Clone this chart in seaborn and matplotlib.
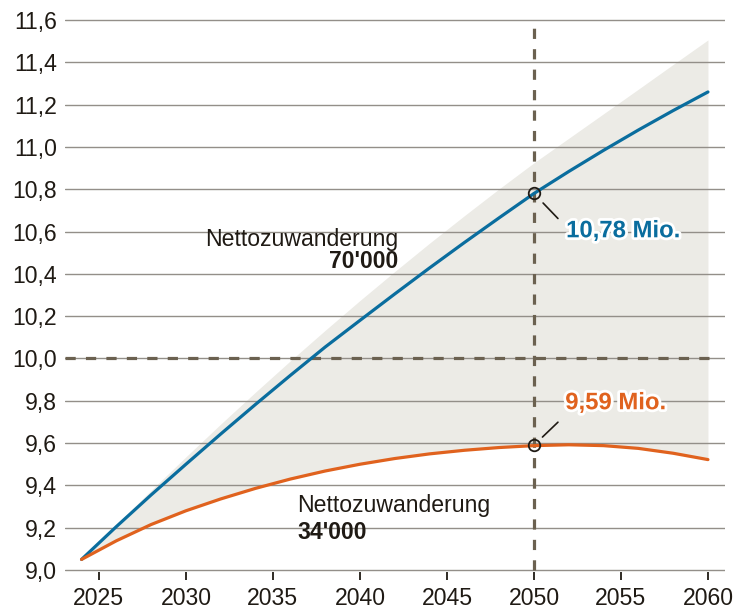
import matplotlib
matplotlib.use("Agg")
import matplotlib.pyplot as plt
import matplotlib.patheffects as pe
import seaborn as sns
import pandas as pd

# ---- data ----
years = [2024, 2026, 2028, 2030, 2032, 2034, 2036, 2038, 2040, 2042,
         2044, 2046, 2048, 2050, 2052, 2054, 2056, 2058, 2060]
pop_70k = [9.05, 9.205, 9.355, 9.50, 9.643, 9.783, 9.92, 10.054, 10.18, 10.305,
           10.428, 10.548, 10.665, 10.78, 10.884, 10.984, 11.08, 11.172, 11.26]
pop_34k = [9.05, 9.138, 9.215, 9.28, 9.336, 9.386, 9.43, 9.468, 9.50, 9.527,
           9.549, 9.566, 9.579, 9.588, 9.592, 9.588, 9.575, 9.552, 9.522]
upper_band = [9.05, 9.215, 9.377, 9.535, 9.69, 9.841, 9.989, 10.133, 10.274, 10.411,
              10.545, 10.675, 10.802, 10.925, 11.041, 11.157, 11.273, 11.39, 11.506]
x_ticks = [2025, 2030, 2035, 2040, 2045, 2050, 2055, 2060]
y_ticks = [9.0, 9.2, 9.4, 9.6, 9.8, 10.0, 10.2, 10.4, 10.6, 10.8, 11.0, 11.2, 11.4, 11.6]
y_labels = [f"{v:.1f}".replace(".", ",") for v in y_ticks]
ref_year = 2050
ref_pop = 10.0
val_70k = 10.78
val_34k = 9.59
label_70k = "10,78 Mio."
label_34k = "9,59 Mio."

df = pd.DataFrame({"year": years, "p70": pop_70k, "p34": pop_34k, "up": upper_band})

# ---- style ----
sns.set_theme(style="white")
plt.rcParams["font.family"] = ["Liberation Sans", "DejaVu Sans"]
TXT = "#1f1a14"
BLUE = "#0a6d9e"
ORANGE = "#e0621e"
FILL = "#ecebe6"
DASH = "#6b6150"
GRID = "#938f89"
FS = 16.6

fig = plt.figure(figsize=(7.35, 6.10), dpi=100)
ax = fig.add_axes([65/735, 0.0621, 660/735, 0.9085])
ax.set_xlim(2023.05, 2060.98)
ax.set_ylim(8.99, 11.61)

ax.fill_between(df["year"], df["p34"], df["up"], color=FILL, lw=0, zorder=0.2)

ax.set_axisbelow(True)
ax.set_yticks(y_ticks)
ax.set_yticklabels(y_labels)
ax.set_xticks(x_ticks)
ax.yaxis.grid(True, color=GRID, lw=1.0)
ax.xaxis.grid(False)
for s in ax.spines.values():
    s.set_visible(False)
ax.tick_params(axis="y", length=0, pad=6, labelsize=FS, labelcolor=TXT)
ax.tick_params(axis="x", length=5.5, width=1.3, color=TXT, pad=5,
               labelsize=FS, labelcolor=TXT, direction="out", bottom=True)

# reference lines
ax.hlines(ref_pop, 2023.05, 2060.4, colors=DASH, lw=2.3,
          linestyles=(0, (3.2, 3.2)), zorder=1.5)
ax.vlines(ref_year, y_ticks[0], y_ticks[-1], colors=DASH, lw=2.3,
          linestyles=(0, (3.2, 3.2)), zorder=1.5)

sns.lineplot(data=df, x="year", y="p70", ax=ax, color=BLUE, lw=2.3, zorder=3)
sns.lineplot(data=df, x="year", y="p34", ax=ax, color=ORANGE, lw=2.3, zorder=3)
ax.set_xlabel("")
ax.set_ylabel("")

# markers
ax.plot([ref_year, ref_year], [val_70k, val_34k], ls="none", marker="o",
        ms=8.3, mfc="none", mec=TXT, mew=1.3, zorder=4)

# leader lines
ax.annotate("", xy=(ref_year, val_70k), xytext=(24, -25), textcoords="offset pixels",
            arrowprops=dict(arrowstyle="-", color=TXT, lw=1.2, shrinkA=0, shrinkB=9.5),
            zorder=4)
ax.annotate("", xy=(ref_year, val_34k), xytext=(24, 23), textcoords="offset pixels",
            arrowprops=dict(arrowstyle="-", color=TXT, lw=1.2, shrinkA=0, shrinkB=8.5),
            zorder=4)

stroke = [pe.withStroke(linewidth=4, foreground="white")]
ax.text(2051.85, 10.573, label_70k, color=BLUE, fontsize=17.2, fontweight="bold",
        ha="left", va="baseline", path_effects=stroke, zorder=5)
ax.text(2051.8, 9.760, label_34k, color=ORANGE, fontsize=17.2, fontweight="bold",
        ha="left", va="baseline", path_effects=stroke, zorder=5)

ax.text(2042.22, 10.532, "Nettozuwanderung", color=TXT, fontsize=FS,
        ha="right", va="baseline", zorder=5)
ax.text(2042.22, 10.426, "70'000", color=TXT, fontsize=FS, fontweight="bold",
        ha="right", va="baseline", zorder=5)
ax.text(2036.4, 9.276, "Nettozuwanderung", color=TXT, fontsize=FS,
        ha="left", va="baseline", zorder=5)
ax.text(2036.4, 9.145, "34'000", color=TXT, fontsize=FS, fontweight="bold",
        ha="left", va="baseline", zorder=5)

fig.savefig("out.png", dpi=100)
